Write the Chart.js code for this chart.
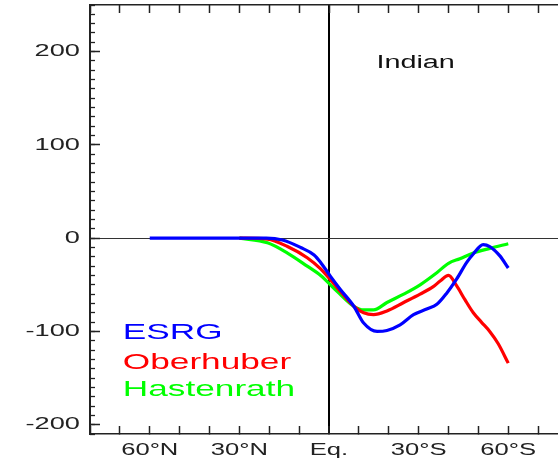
<!DOCTYPE html>
<html>
<head>
<meta charset="utf-8">
<script src="https://cdn.jsdelivr.net/npm/chart.js@4/dist/chart.umd.min.js"></script>
<style>
  html, body { margin: 0; padding: 0; background: #fff; overflow: hidden; }
  canvas { display: block; }
</style>
</head>
<body>
<canvas id="chart" width="578" height="463"></canvas>
<script>
// Zonal profile for the Indian basin. Latitude in degrees: north negative, south positive.
const esrgLat = [-60, -40, -30, -21, -15.6, -9.5, -5, -2.8, 0.5, 3.8, 8.3, 11.6, 16.1, 19.4, 23.8, 28.3, 32.7, 36.1, 39.4, 42.7, 46.1, 48.3, 51.6, 53.8, 57.2, 60];
const esrgVal = [0, 0, 0, 0, -2, -10, -18, -26, -41, -55, -73, -91, -100, -99, -93, -82, -76, -71, -59, -44, -26, -17, -7, -9, -19, -32];

const oberhuberLat = [-30, -20.6, -13.9, -7.3, -2.8, 2.7, 8.3, 11.6, 14.9, 19.4, 25, 30.5, 34.9, 37.2, 40, 42.7, 45.5, 48.3, 51, 53.8, 56.6, 60];
const oberhuberVal = [0, -1, -9, -21, -33, -53, -73, -80, -82, -78, -69, -60, -52, -46, -40, -51, -66, -80, -90, -100, -113, -134];

const hastenrathLat = [-30, -20.6, -13.9, -7.3, -2.8, 2.7, 8.3, 11.6, 14.9, 19.4, 25, 30.5, 36.1, 40, 43.8, 48.3, 53.8, 60];
const hastenrathVal = [0, -5, -16, -30, -40, -57, -73, -77, -77, -69, -60, -50, -37, -27, -22, -16, -11, -6];

const seriesNames = ['ESRG', 'Oberhuber', 'Hastenrath'];
const seriesColors = ['#0000ff', '#ff0000', '#00ff00'];

const xTickValues = [-60, -30, 0, 30, 60];
const xTickLabels = ['60°N', '30°N', 'Eq.', '30°S', '60°S'];
const yTickValues = [-200, -100, 0, 100, 200];

const basinName = 'Indian';

const LAT_MIN = -80, LAT_MAX = 80;
const VAL_MIN = -210, VAL_MAX = 250;
const TEXT_STRETCH = 1.6;
const FONT = '"Liberation Sans", Arial, sans-serif';

const toPoints = (lat, val) => lat.map((x, i) => ({ x, y: val[i] }));

// The lettering is wide: every text run is stretched horizontally about its anchor.
const wideText = {
  id: 'wideText',
  beforeInit(chart) {
    const ctx = chart.ctx;
    const fill = ctx.fillText.bind(ctx);
    ctx.fillText = (text, x, y) => {
      ctx.save();
      ctx.translate(x, y);
      ctx.scale(TEXT_STRETCH, 1);
      fill(text, 0, 0);
      ctx.restore();
    };
  }
};

// Basin name and the coloured series names inside the plot box.
const annotate = {
  id: 'annotate',
  afterDatasetsDraw(chart) {
    const { ctx, scales: { x, y } } = chart;
    ctx.save();
    ctx.textBaseline = 'middle';
    ctx.textAlign = 'center';
    ctx.font = '18px ' + FONT;
    ctx.fillStyle = '#111';
    ctx.fillText(basinName, x.getPixelForValue(29), y.getPixelForValue(188));
    ctx.font = '22px ' + FONT;
    ctx.textAlign = 'left';
    const rows = [-102, -134, -163];
    chart.data.datasets.forEach((ds, i) => {
      ctx.fillStyle = ds.borderColor;
      ctx.fillText(ds.label, x.getPixelForValue(-69), y.getPixelForValue(rows[i]));
    });
    ctx.restore();
  }
};

const noPad = s => { s.paddingTop = 0; s.paddingBottom = 0; s.paddingLeft = 0; s.paddingRight = 0; };
const majorTicks = s => { s.ticks = yTickValues.map(value => ({ value })); };
const AXIS = '#222';

new Chart(document.getElementById('chart'), {
  type: 'line',
  data: {
    datasets: [
      { label: seriesNames[0], data: toPoints(esrgLat, esrgVal), borderColor: seriesColors[0] },
      { label: seriesNames[1], data: toPoints(oberhuberLat, oberhuberVal), borderColor: seriesColors[1] },
      { label: seriesNames[2], data: toPoints(hastenrathLat, hastenrathVal), borderColor: seriesColors[2] }
    ].map(d => Object.assign(d, {
      xAxisID: 'x', yAxisID: 'y', borderWidth: 3.2, pointRadius: 0,
      fill: false, cubicInterpolationMode: 'monotone'
    }))
  },
  options: {
    responsive: false,
    animation: false,
    layout: { padding: { left: 0, right: 10, top: 0, bottom: 0 } },
    plugins: { legend: { display: false }, tooltip: { enabled: false } },
    scales: {
      x: {
        type: 'linear', axis: 'x', position: 'bottom', min: LAT_MIN, max: LAT_MAX,
        afterFit: s => { s.height = 29; noPad(s); },
        ticks: {
          stepSize: 10, autoSkip: false, maxRotation: 0, padding: 15,
          color: AXIS, font: { family: FONT, size: 16 },
          callback: v => { const i = xTickValues.indexOf(v); return i < 0 ? '' : xTickLabels[i]; }
        },
        grid: {
          drawOnChartArea: true,
          color: c => (c.tick && c.tick.value === 0 ? '#000' : 'rgba(0,0,0,0)'),
          lineWidth: c => (c.tick && c.tick.value === 0 ? 2 : 1),
          tickLength: -8, tickColor: AXIS, tickWidth: 1.5
        },
        border: { display: true, color: AXIS, width: 1.5 }
      },
      xTop: {
        type: 'linear', axis: 'x', position: 'top', min: LAT_MIN, max: LAT_MAX,
        afterFit: s => { s.height = 5; noPad(s); },
        ticks: { display: false, stepSize: 10 },
        grid: { drawOnChartArea: false, tickLength: -8, color: AXIS, tickWidth: 1.5 },
        border: { display: true, color: AXIS, width: 1.5 }
      },
      yMinor: {
        type: 'linear', axis: 'y', position: 'left', weight: 0, min: VAL_MIN, max: VAL_MAX,
        afterFit: s => { s.width = 0; noPad(s); },
        ticks: { display: false, stepSize: 10 },
        grid: {
          drawOnChartArea: true,
          color: c => (c.tick && c.tick.value === 0 ? '#333' : 'rgba(0,0,0,0)'),
          lineWidth: 1,
          tickLength: -5, tickColor: AXIS, tickWidth: 1.3
        },
        border: { display: false }
      },
      y: {
        type: 'linear', axis: 'y', position: 'left', weight: 1, min: VAL_MIN, max: VAL_MAX,
        afterFit: s => { s.width = 90; noPad(s); },
        afterBuildTicks: majorTicks,
        ticks: { padding: 20, color: AXIS, font: { family: FONT, size: 17 } },
        grid: { drawOnChartArea: false, tickLength: -10, color: AXIS, tickWidth: 1.5 },
        border: { display: true, color: AXIS, width: 2 }
      },
      yRight: {
        type: 'linear', axis: 'y', position: 'right', min: VAL_MIN, max: VAL_MAX,
        afterFit: s => { s.width = 0; noPad(s); },
        afterBuildTicks: majorTicks,
        ticks: { display: false },
        grid: { drawOnChartArea: false, tickLength: -10, color: AXIS, tickWidth: 1.5 },
        border: { display: true, color: AXIS, width: 2 }
      }
    }
  },
  plugins: [wideText, annotate]
});
</script>
</body>
</html>
